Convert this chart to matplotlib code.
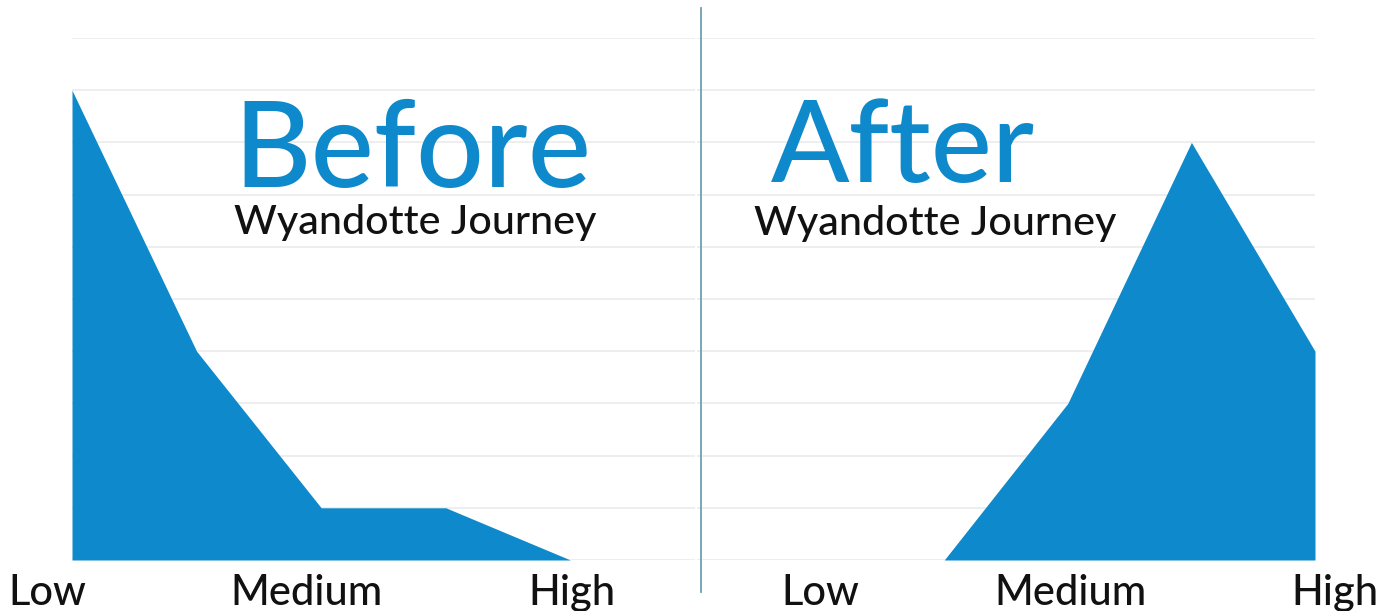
import matplotlib
matplotlib.use("Agg")
import matplotlib.pyplot as plt

plt.rcParams['font.family'] = ['Lato', 'DejaVu Sans']

# ---- data ----
levels = ["Low", "Medium", "High"]
before_x = [0, 1, 2, 3, 4]
before_vals = [9, 4, 1, 1, 0]
after_x = [2, 3, 4, 5]
after_vals = [0, 3, 8, 4]
titles = ["Before", "After"]
subtitle = "Wyandotte Journey"

BLUE = "#0E89CB"
GRID = "#ebebeb"

W, H = 1391, 611
fig = plt.figure(figsize=(W / 100, H / 100), dpi=100)
fig.patch.set_facecolor("white")

def px_axes(x0, x1, y_top, y_bot):
    return fig.add_axes([x0 / W, 1 - y_bot / H, (x1 - x0) / W, (y_bot - y_top) / H])

axL = px_axes(72, 695, 38, 560)
axR = px_axes(697, 1315, 38, 560)

for ax in (axL, axR):
    ax.set_xlim(0, 5)
    ax.set_ylim(0, 10)
    for s in ax.spines.values():
        s.set_visible(False)
    ax.set_xticks([])
    ax.set_yticks([])
    ax.set_facecolor("none")
    for g in range(0, 11):
        ax.axhline(g, color=GRID, lw=1.2, zorder=0)

axL.fill_between(before_x, before_vals, 0, color=BLUE, lw=0, zorder=2)
axR.fill_between(after_x, after_vals, 0, color=BLUE, lw=0, zorder=2)

# category labels under each panel
lab_y = -0.862
left_pos = [-0.2, 1.88, 4.01]
right_pos = [1.0, 3.02, 5.16]
for ax, pos in ((axL, left_pos), (axR, right_pos)):
    for p, t in zip(pos, levels):
        ax.text(p, lab_y, t, ha="center", va="baseline", fontsize=30,
                fontweight="medium", color="#111111", clip_on=False)

# titles
fig.text(233 / W, 1 - 187 / H, titles[0], ha="left", va="baseline",
         fontsize=86, fontweight="medium", color=BLUE)
fig.text(234 / W, 1 - 234 / H, subtitle, ha="left", va="baseline",
         fontsize=29.7, fontweight="medium", color="#111111")
fig.text(771 / W, 1 - 182 / H, titles[1], ha="left", va="baseline",
         fontsize=83, fontweight="medium", color=BLUE)
fig.text(754 / W, 1 - 235 / H, subtitle, ha="left", va="baseline",
         fontsize=29.7, fontweight="medium", color="#111111")

# divider
fig.add_artist(plt.Line2D([701 / W, 701 / W], [1 - 8 / H, 1 - 592 / H],
                          color="#6f9fb3", lw=1.3))

fig.savefig("out.png", dpi=100, facecolor="white")
